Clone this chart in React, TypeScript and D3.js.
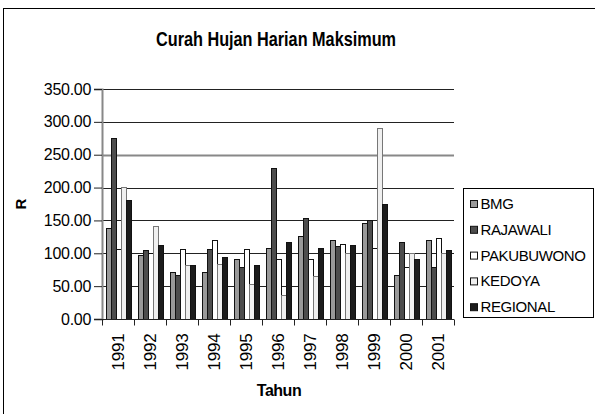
import { useEffect, useRef } from "react";
import * as d3 from "d3";

const years = ["1991", "1992", "1993", "1994", "1995", "1996", "1997", "1998", "1999", "2000", "2001"];
const seriesNames = ["BMG", "RAJAWALI", "PAKUBUWONO", "KEDOYA", "REGIONAL"];
const bmg = [138, 97, 72, 72, 91, 108, 126, 120, 146, 67, 120];
const rajawali = [276, 105, 67, 107, 79, 230, 153, 111, 150, 117, 79];
const pakubuwono = [106, 101, 107, 120, 107, 92, 92, 114, 108, 79, 123];
const kedoya = [201, 141, 82, 83, 54, 37, 66, 101, 291, 100, 100];
const regional = [181, 112, 82, 95, 82, 117, 108, 112, 175, 91, 105];
const yTicks = [0, 50, 100, 150, 200, 250, 300, 350];

const colors = ["#999999", "#4d4d4d", "#ffffff", "#f0f0f0", "#1c1c1c"];

const App = () => {
  const chartRef = useRef<HTMLDivElement>(null);

  useEffect(() => {
    document.body.style.margin = "0";
    const seriesValues = [bmg, rajawali, pakubuwono, kedoya, regional];
    const W = 595;
    const H = 414;
    const plot = { left: 102, right: 454, top: 89, bottom: 319 };

    d3.select(chartRef.current).selectAll("svg").remove();

    const svg = d3
      .select(chartRef.current)
      .append("svg")
      .attr("width", W)
      .attr("height", H)
      .style("display", "block")
      .style("font-family", "'Liberation Sans', Arial, sans-serif");

    svg.append("rect").attr("width", W).attr("height", H).attr("fill", "#fff");
    // outer chart border (right/bottom fall off the page)
    svg
      .append("rect")
      .attr("x", 3.5)
      .attr("y", 8.5)
      .attr("width", W + 10)
      .attr("height", H + 10)
      .attr("fill", "none")
      .attr("stroke", "#000")
      .attr("stroke-width", 1);

    const x0 = d3.scaleBand().domain(years).range([plot.left, plot.right]).paddingInner(0).paddingOuter(0);
    const x1 = d3
      .scaleBand()
      .domain(seriesNames)
      .range([0, x0.bandwidth()])
      .paddingOuter(0.7)
      .paddingInner(0);
    const y = d3.scaleLinear().domain([0, 350]).range([plot.bottom, plot.top]);

    // gridlines
    svg
      .append("g")
      .selectAll("line")
      .data(yTicks.filter((d) => d > 0))
      .enter()
      .append("line")
      .attr("x1", plot.left)
      .attr("x2", plot.right)
      .attr("y1", (d) => Math.round(y(d)) + 0.5)
      .attr("y2", (d) => Math.round(y(d)) + 0.5)
      .attr("stroke", (d) => (d === 250 ? "#888" : "#222"))
      .attr("stroke-width", (d) => (d === 250 ? 2 : 1));

    // bars
    seriesNames.forEach((name, si) => {
      svg
        .append("g")
        .selectAll("rect")
        .data(seriesValues[si])
        .enter()
        .append("rect")
        .attr("x", (d, i) => Math.round((x0(years[i]) as number) + (x1(name) as number)) + 0.5)
        .attr("y", (d) => Math.round(y(d)) + 0.5)
        .attr("width", Math.round(x1.bandwidth()))
        .attr("height", (d) => Math.round(plot.bottom - y(d)))
        .attr("fill", colors[si])
        .attr("stroke", si === 3 ? "#777" : "#111")
        .attr("stroke-width", 1);
    });

    // y axis
    const yAxis = svg
      .append("g")
      .attr("transform", `translate(${plot.left}, 0)`)
      .call(
        d3
          .axisLeft(y)
          .tickValues(yTicks)
          .tickSize(8)
          .tickPadding(3)
          .tickFormat((d) => d3.format(".2f")(d as number))
      );
    yAxis.select(".domain").attr("stroke", "#888").attr("stroke-width", 2);
    yAxis.selectAll(".tick line").attr("stroke", "#222");
    yAxis
      .selectAll(".tick text")
      .attr("font-size", 16)
      .attr("letter-spacing", -0.3)
      .attr("fill", "#000")
      .attr("font-family", "'Liberation Sans', Arial, sans-serif");

    // x axis
    const xAxis = svg.append("g").attr("transform", `translate(0, ${plot.bottom + 0.5})`);
    xAxis
      .append("line")
      .attr("x1", plot.left)
      .attr("x2", plot.right)
      .attr("stroke", "#222");
    xAxis
      .selectAll("line.tk")
      .data(d3.range(years.length + 1))
      .enter()
      .append("line")
      .attr("class", "tk")
      .attr("x1", (i) => Math.round(plot.left + i * x0.step()) + 0.5)
      .attr("x2", (i) => Math.round(plot.left + i * x0.step()) + 0.5)
      .attr("y1", 0)
      .attr("y2", 6)
      .attr("stroke", "#222");
    xAxis
      .selectAll("text")
      .data(years)
      .enter()
      .append("text")
      .attr("transform", (d) => `translate(${(x0(d) as number) + x0.bandwidth() / 2 + 6}, 14) rotate(-90)`)
      .attr("text-anchor", "end")
      .attr("font-size", 17)
      .attr("letter-spacing", -0.2)
      .text((d) => d);

    // titles
    svg
      .append("text")
      .attr("x", 276)
      .attr("y", 46)
      .attr("text-anchor", "middle")
      .attr("font-size", 21)
      .attr("font-weight", "bold")
      .attr("textLength", 240)
      .attr("lengthAdjust", "spacingAndGlyphs")
      .text("Curah Hujan Harian Maksimum");

    svg
      .append("text")
      .attr("x", (plot.left + plot.right) / 2 + 1)
      .attr("y", 396)
      .attr("text-anchor", "middle")
      .attr("font-size", 16)
      .attr("font-weight", "bold")
      .attr("letter-spacing", -0.5)
      .text("Tahun");

    svg
      .append("text")
      .attr("transform", `translate(26, ${(plot.top + plot.bottom) / 2}) rotate(-90)`)
      .attr("text-anchor", "middle")
      .attr("font-size", 15)
      .attr("font-weight", "bold")
      .text("R");

    // legend
    const legend = svg.append("g").attr("transform", "translate(463.5, 188.5)");
    legend
      .append("rect")
      .attr("width", 130)
      .attr("height", 129)
      .attr("fill", "#fff")
      .attr("stroke", "#000");
    seriesNames.forEach((name, i) => {
      const row = legend.append("g").attr("transform", `translate(0, ${12 + i * 25.8})`);
      row
        .append("rect")
        .attr("x", 7)
        .attr("y", 0)
        .attr("width", 7)
        .attr("height", 7)
        .attr("fill", colors[i])
        .attr("stroke", "#111");
      row
        .append("text")
        .attr("x", 17)
        .attr("y", 8.5)
        .attr("font-size", 15)
        .attr("letter-spacing", -0.4)
        .text(name);
    });
  }, []);

  return <div ref={chartRef}></div>;
};

export default App;
